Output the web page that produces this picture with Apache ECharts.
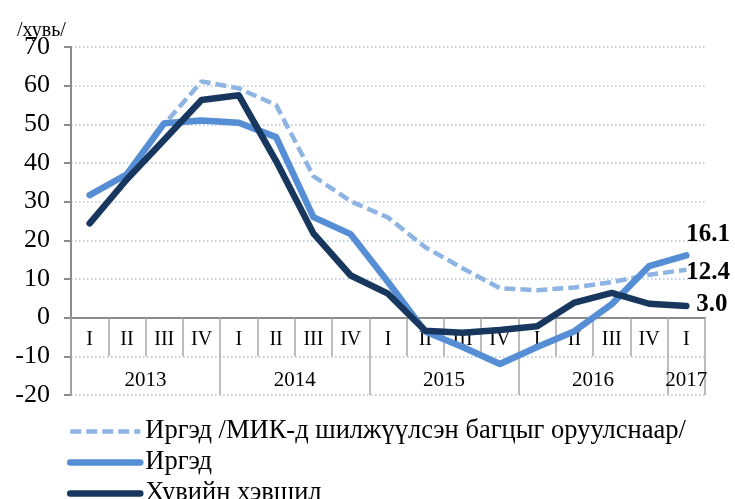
<!DOCTYPE html>
<html>
<head>
<meta charset="utf-8">
<script src="https://cdn.jsdelivr.net/npm/echarts@6/dist/echarts.min.js"></script>
<style>
  html, body { margin: 0; padding: 0; background: #fff; }
  #chart { width: 735px; height: 499px; }
</style>
</head>
<body>
<div id="chart"></div>
<script>
// quarters (2013 I .. 2017 I)
var quarters = ['I', 'II', 'III', 'IV', 'I', 'II', 'III', 'IV', 'I', 'II', 'III', 'IV', 'I', 'II', 'III', 'IV', 'I']
var years = ['2013', '2014', '2015', '2016', '2017']
var yearSpans = [4, 4, 4, 4, 1] // quarters in each year

var seriesNames = ['Иргэд /МИК-д шилжүүлсэн багцыг оруулснаар/', 'Иргэд', 'Хувийн хэвшил']
var irgedMik = [31.7, 37.1, 50.0, 61.1, 59.3, 55.0, 36.6, 30.1, 25.9, 18.2, 12.8, 7.6, 7.1, 7.8, 9.2, 11.1, 12.4]
var irged = [31.7, 37.1, 50.3, 51.0, 50.4, 46.7, 26.0, 21.6, 9.2, -3.6, -7.6, -12.0, -7.6, -3.5, 3.5, 13.3, 16.1]
var xuviin = [24.4, 35.8, 46.0, 56.3, 57.5, 40.5, 21.8, 10.9, 6.2, -3.4, -3.9, -3.2, -2.2, 3.9, 6.4, 3.6, 3.0]

var yMin = -20
var yMax = 70
var yStep = 10

var serif = 'Liberation Serif'

// year axis: half-quarter slots so labels sit mid-year and ticks at year borders
var halfSlots = []
var yearTicks = {}
var pos = 0
yearTicks[0] = true
years.forEach(function (y, i) {
  for (var k = 0; k < yearSpans[i] * 2; k++) halfSlots.push('')
  halfSlots[pos + yearSpans[i]] = y
  pos += yearSpans[i] * 2
  yearTicks[pos] = true
})
halfSlots.push('')

function endLabel (distance, offset) {
  return {
    show: true,
    distance: distance,
    offset: offset,
    formatter: function (p) { return p.value.toFixed(1) },
    color: '#000',
    fontFamily: serif,
    fontSize: 25,
    fontWeight: 'bold'
  }
}

var myChart = echarts.init(document.getElementById('chart'))
myChart.setOption({
  animation: false,
  title: {
    text: '/хувь/',
    left: 12,
    top: 16,
    textStyle: { fontFamily: serif, fontSize: 20, fontWeight: 'normal', color: '#000' }
  },
  legend: {
    orient: 'vertical',
    left: 62,
    top: 413,
    height: 150,
    itemWidth: 70,
    itemHeight: 14,
    itemGap: 4,
    data: seriesNames,
    itemStyle: { opacity: 0 },
    lineStyle: { width: 'inherit' },
    textStyle: { fontFamily: serif, fontSize: 26.5, color: '#000' }
  },
  grid: {
    left: 71,
    right: 30,
    top: 47,
    bottom: 104,
    containLabel: false
  },
  xAxis: [
    {
      // quarter cells: line and ticks on the zero line
      type: 'category',
      data: quarters,
      boundaryGap: true,
      position: 'bottom',
      axisLine: { onZero: true, lineStyle: { color: '#8c8c8c', width: 2 } },
      axisTick: { show: true, interval: 0, length: 38.7, lineStyle: { color: '#a6a6a6', width: 1.5 } },
      axisLabel: { show: false },
      splitLine: { show: false }
    },
    {
      // year groups
      type: 'category',
      data: halfSlots,
      boundaryGap: false,
      position: 'bottom',
      axisLine: { show: false, onZero: false },
      axisTick: {
        show: true,
        inside: true,
        length: 77.5,
        interval: function (idx) { return !!yearTicks[idx] },
        lineStyle: { color: '#a6a6a6', width: 1.5 }
      },
      axisLabel: { inside: true, interval: 0, margin: 4, color: '#000', fontFamily: serif, fontSize: 21 },
      splitLine: { show: false }
    },
    {
      // quarter labels
      type: 'category',
      data: quarters,
      boundaryGap: true,
      position: 'bottom',
      axisLine: { show: false, onZero: false },
      axisTick: { show: false },
      axisLabel: { inside: true, interval: 0, margin: 45, color: '#000', fontFamily: serif, fontSize: 20 },
      splitLine: { show: false }
    }
  ],
  yAxis: {
    type: 'value',
    min: yMin,
    max: yMax,
    interval: yStep,
    axisLine: { show: true, lineStyle: { color: '#8c8c8c', width: 2 } },
    axisTick: { show: true, length: 7, lineStyle: { color: '#8c8c8c', width: 2 } },
    axisLabel: { margin: 21, color: '#000', fontFamily: serif, fontSize: 26 },
    splitLine: { show: true, lineStyle: { color: '#a9c3ea', width: 1.5, type: [1.5, 2.5] } }
  },
  series: [
    {
      name: seriesNames[0],
      type: 'line',
      data: irgedMik,
      symbol: 'none',
      lineStyle: { color: '#8db4e3', width: 4.5, type: [11, 5] },
      itemStyle: { color: '#8db4e3' },
      endLabel: endLabel(0, [0, 3]),
      z: 2
    },
    {
      name: seriesNames[1],
      type: 'line',
      data: irged,
      symbol: 'none',
      lineStyle: { color: '#558ed5', width: 6.5, cap: 'round', join: 'round' },
      itemStyle: { color: '#558ed5' },
      endLabel: endLabel(0, [0, -21]),
      z: 3
    },
    {
      name: seriesNames[2],
      type: 'line',
      data: xuviin,
      symbol: 'none',
      lineStyle: { color: '#17375e', width: 6.5, cap: 'round', join: 'round' },
      itemStyle: { color: '#17375e' },
      endLabel: endLabel(10, [0, -2]),
      z: 4
    }
  ]
})
</script>
</body>
</html>
